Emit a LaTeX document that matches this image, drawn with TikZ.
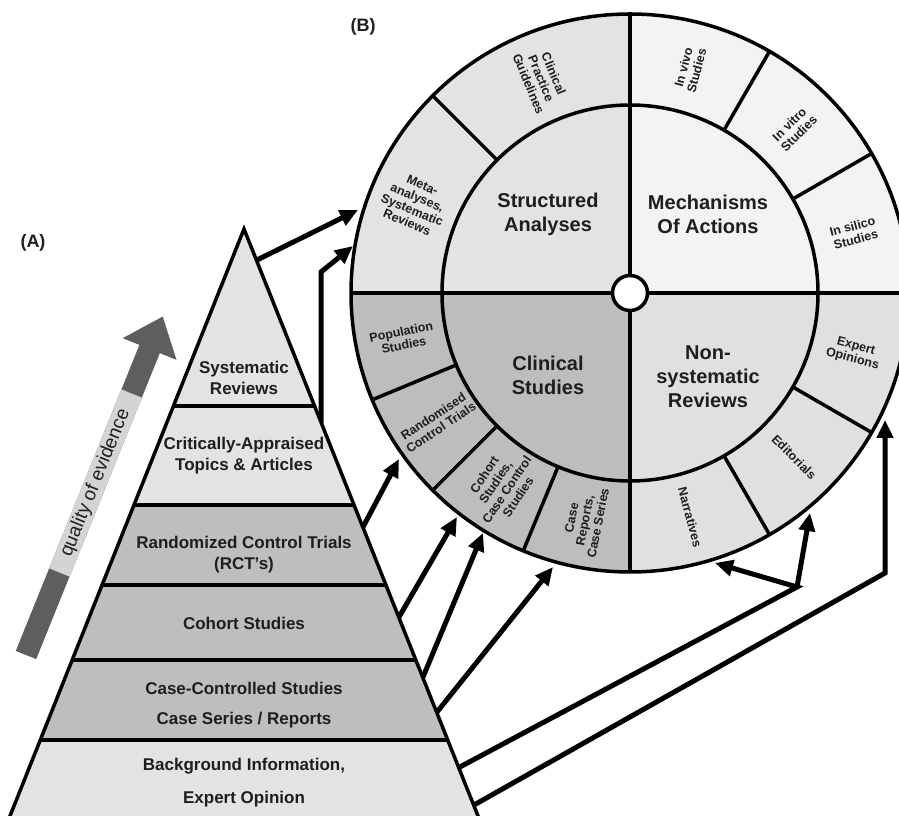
\documentclass[tikz,border=0pt]{standalone}
\usepackage{fontspec}
\setmainfont{Liberation Sans}
\usetikzlibrary{arrows.meta}
\definecolor{pyrLight}{HTML}{E3E3E3}
\definecolor{pyrDark}{HTML}{BEBEBE}
\definecolor{qTL}{HTML}{E3E3E3}
\definecolor{qTR}{HTML}{F3F3F3}
\definecolor{qBL}{HTML}{BDBDBD}
\definecolor{qBR}{HTML}{E0E0E0}
\definecolor{textc}{HTML}{1E1E1E}
\definecolor{arrowDark}{HTML}{5E5E5E}
\definecolor{arrowLight}{HTML}{D4D4D4}
\tikzset{
  outline/.style={draw=black, line width=3.5pt},
  arr/.style={draw=black, line width=5pt, line join=miter, -{Triangle[length=18pt,width=16pt]}},
  pyrtext/.style={align=center, text=textc, font=\bfseries\fontsize{17}{21}\selectfont, inner sep=0pt},
  quadtext/.style={align=center, text=textc, font=\bfseries\fontsize{20}{24}\selectfont, inner sep=0pt},
  ringtext/.style={align=center, text=textc, font=\bfseries\fontsize{12.5}{13.5}\selectfont, inner sep=0pt},
  paneltext/.style={text=textc, font=\bfseries\fontsize{18}{20}\selectfont, inner sep=0pt},
}
\begin{document}
\begin{tikzpicture}[x=1pt,y=1pt]
\useasboundingbox (0,0) rectangle (899,816);
\clip (0,0) rectangle (899,816);
\fill[white] (0,0) rectangle (899,816);

% ---------- quality of evidence arrow ----------
\begin{scope}[shift={(26,161)}, rotate=68]
  \fill[arrowDark] (0,-11) -- (330,-11) -- (330,-29) -- (365,0) -- (330,29) -- (330,11) -- (0,11) -- cycle;
  \fill[arrowLight] (89,-11) rectangle (282,11);
  \node[text=textc, font=\fontsize{19}{21}\selectfont, rotate=68, inner sep=0pt] (qoe) at (185.5,0) {quality of evidence};
\end{scope}

% ---------- circle (B) ----------
\coordinate (C) at (630,523);
\begin{scope}[shift={(C)}]
  \fill[qTR] (0,0) -- (0:279) arc[start angle=0, end angle=90, radius=279] -- cycle;
  \fill[qTL] (0,0) -- (90:279) arc[start angle=90, end angle=180, radius=279] -- cycle;
  \fill[qBL] (0,0) -- (180:279) arc[start angle=180, end angle=270, radius=279] -- cycle;
  \fill[qBR] (0,0) -- (270:279) arc[start angle=270, end angle=360, radius=279] -- cycle;
  \draw[outline] (0,0) circle[radius=279];
  \draw[outline] (0,0) circle[radius=188];
  \draw[outline] (-279,0) -- (279,0);
  \draw[outline] (0,-279) -- (0,279);
  \foreach \a in {135,60,30,202.5,225,247.5,300,330}
    \draw[outline] (\a:188) -- (\a:279);
  \node[circle, fill=white, draw=black, line width=3.5pt, minimum size=35pt, inner sep=0pt] (hub) at (0,0) {};

  \node[quadtext] (sa) at (-82,79) {Structured\\Analyses};
  \node[quadtext] (moa) at (78,79) {Mechanisms\\Of Actions};
  \node[quadtext] (cs) at (-82,-82) {Clinical\\Studies};
  \node[quadtext] (nsr) at (78,-84) {Non-\\systematic\\Reviews};

  \node[ringtext, rotate=-67.5] (cpg) at (112.5:232) {Clinical\\Practice\\Guidelines};
  \node[ringtext, rotate=-22.5] (meta) at (157.5:233) {Meta-\\analyses,\\Systematic\\Reviews};
  \node[ringtext, rotate=75] (vivo) at (75:232) {In vivo\\Studies};
  \node[ringtext, rotate=45] (vitro) at (45:232) {In vitro\\Studies};
  \node[ringtext, rotate=15] (silico) at (15:232) {In silico\\Studies};
  \node[ringtext, rotate=11.25] (pop) at (191.25:232) {Population\\Studies};
  \node[ringtext, rotate=33.75] (rand) at (213.75:232) {Randomised\\Control Trials};
  \node[ringtext, rotate=56.25] (coh2) at (236.25:232) {Cohort\\Studies,\\Case Control\\Studies};
  \node[ringtext, rotate=78.75] (caser) at (258.75:232) {Case\\Reports,\\Case Series};
  \node[ringtext, rotate=-75] (narr) at (285:232) {Narratives};
  \node[ringtext, rotate=-45] (edit) at (315:232) {Editorials};
  \node[ringtext, rotate=-15] (expo) at (345:232) {Expert\\Opinions};
\end{scope}

% ---------- connectors ----------
\coordinate (a1s) at (257,556);  \coordinate (a1e) at (358,606);
\coordinate (a2s) at (321,393);  \coordinate (a2m) at (321,544);  \coordinate (a2e) at (353,570);
\coordinate (a3s) at (363,289);  \coordinate (a3e) at (399,357);
\coordinate (a4s) at (399,199);  \coordinate (a4e) at (457,299);
\coordinate (a5s) at (423,139);  \coordinate (a5e) at (483,283);
\coordinate (a6s) at (437,104);  \coordinate (a6e) at (553,249);
\coordinate (a7s) at (458,48);   \coordinate (j7) at (797,229);
\coordinate (a7e) at (715,253);  \coordinate (a7f) at (810,303);
\coordinate (a8s) at (474,11);   \coordinate (j8) at (885,243);  \coordinate (a8e) at (885,396);

\draw[arr] (a1s) -- (a1e);
\draw[arr] (a2s) -- (a2m) -- (a2e);
\draw[arr] (a3s) -- (a3e);
\draw[arr] (a4s) -- (a4e);
\draw[arr] (a5s) -- (a5e);
\draw[arr] (a6s) -- (a6e);
\draw[arr] (a7s) -- (j7) -- (a7e);
\draw[arr] (j7) -- (a7f);
\draw[arr] (a8s) -- (j8) -- (a8e);

% ---------- pyramid (A) ----------
\coordinate (apex) at (244,587);
\coordinate (bl) at (7.6,-6);
\coordinate (br) at (480.4,-6);
\fill[pyrLight] (apex) -- (bl) -- (br) -- cycle;
\begin{scope}
  \clip (apex) -- (bl) -- (br) -- cycle;
  \fill[pyrDark] (0,76) rectangle (500,311);
  \foreach \y in {410,311,231,156,76}
    \draw[black, line width=3.5pt] (0,\y) -- (500,\y);
\end{scope}
\draw[outline, line join=miter] (apex) -- (bl) -- (br) -- cycle;

\node[pyrtext] (sr) at (244,438) {Systematic\\Reviews};
\node[pyrtext] (cat) at (244,360) {Critically-Appraised\\Topics \& Articles};
\node[pyrtext] (rct) at (244,261) {Randomized Control Trials\\(RCT's)};
\node[pyrtext] (coh) at (244,193) {Cohort Studies};
\node[pyrtext] (ccs) at (244,111) {Case-Controlled Studies\\[9pt]Case Series / Reports};
\node[pyrtext] (bg) at (244,33) {Background Information,\\[12pt]Expert Opinion};

\node[paneltext] (labA) at (33,573) {(A)};
\node[paneltext] (labB) at (363,789) {(B)};
\end{tikzpicture}
\end{document}
